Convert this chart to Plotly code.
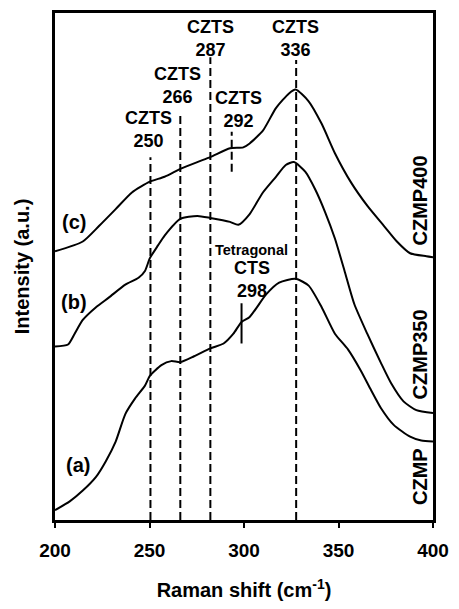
import plotly.graph_objects as go

# ---- data (intensity in arbitrary units, offset curves) ----
x_a = [200, 207.8, 214.7, 221.7, 226.9, 232.1, 237.2, 242.4, 247.6, 250.2, 256.3, 261.5, 266.3,
       273.6, 282.2, 289.2, 294.4, 298.7, 303.0, 311.7, 318.6, 327.3, 334.2, 341.1, 348.1, 355.0,
       361.9, 366.8, 372.5, 379.2, 387.9, 393.8, 400]
y_a = [10, 19, 30, 44, 60, 80, 108, 124, 137, 147, 158, 162, 161,
       167, 175, 180, 190, 202, 207, 230, 242, 246, 239, 217, 190, 174,
       152, 134, 114, 97, 85, 81, 80]

x_b = [200, 206.9, 210.4, 214.7, 221.7, 228.6, 237.2, 244.2, 247.6, 250.2, 254.5, 258.0, 266.3,
       275.3, 282.2, 292.6, 297.0, 303.0, 310.0, 316.9, 322.1, 326.4, 332.5, 337.7, 342.9, 348.1,
       353.2, 358.4, 365.2, 372.5, 377.7, 384.4, 391.2, 400]
y_b = [177, 179, 190, 204, 217, 227, 240, 247, 254, 267, 280, 290, 307,
       310, 308, 304, 301, 312, 334, 350, 362, 365, 355, 337, 314, 287,
       254, 220, 190, 160, 140, 121, 112, 109]

x_c = [200, 214.7, 223.4, 232.1, 240.7, 250.2, 258.0, 266.3, 275.3, 282.2, 292.6, 299.6, 303.0,
       310.0, 316.9, 323.8, 327.3, 334.2, 341.1, 348.1, 356.7, 365.4, 374.0, 380.9, 387.9, 396.5, 400]
y_c = [274, 284, 300, 317, 334, 345, 350, 358, 365, 370, 379, 380, 384,
       397, 420, 435, 439, 427, 404, 374, 344, 320, 300, 284, 272, 269, 268]

curve_tags = ["(a)", "(b)", "(c)"]
sample_names = ["CZMP", "CZMP350", "CZMP400"]

czts_peaks = [250.5, 266.3, 282.2, 327.6]
czts_labels = ["CZTS<br>250", "CZTS<br>266", "CZTS<br>287", "CZTS<br>336"]
czts_line_tops = [370, 416, 472, 469]

czts292_x = 293.5
czts292_span = [355, 396]
cts298_x = 298.7
cts298_span = [180, 221]

x_ticks = [200, 250, 300, 350, 400]

# ---- figure ----
FONT = "Liberation Sans, Arial, sans-serif"
fig = go.Figure()

for xs, ys in [(x_a, y_a), (x_b, y_b), (x_c, y_c)]:
    fig.add_trace(go.Scatter(x=xs, y=ys, mode="lines",
                             line=dict(color="black", width=2, shape="spline", smoothing=0.6),
                             showlegend=False, hoverinfo="skip"))

for p, top in zip(czts_peaks, czts_line_tops):
    fig.add_trace(go.Scatter(x=[p, p], y=[0, top], mode="lines",
                             line=dict(color="black", width=2, dash="8px,4px"),
                             showlegend=False, hoverinfo="skip"))

fig.add_trace(go.Scatter(x=[czts292_x, czts292_x], y=czts292_span, mode="lines",
                         line=dict(color="black", width=2, dash="8px,4px"),
                         showlegend=False, hoverinfo="skip"))
fig.add_trace(go.Scatter(x=[cts298_x, cts298_x], y=cts298_span, mode="lines",
                         line=dict(color="black", width=2),
                         showlegend=False, hoverinfo="skip"))

ann = []
lab_font = dict(family=FONT, size=18, color="black", weight="bold")
czts_label_pos = [(249.7, 398), (264.9, 443.5), (282.2, 491), (327.3, 491)]
for (lx, ly), t in zip(czts_label_pos, czts_labels):
    ann.append(dict(x=lx, y=ly, text=t, showarrow=False, font=lab_font,
                    xanchor="center", yanchor="middle"))
ann.append(dict(x=297.0, y=419, text="CZTS<br>292", showarrow=False, font=lab_font,
                xanchor="center", yanchor="middle"))
ann.append(dict(x=304.2, y=275, text="Tetragonal", showarrow=False,
                font=dict(family=FONT, size=14.5, color="black", weight="bold"),
                xanchor="center", yanchor="middle"))
ann.append(dict(x=304.2, y=245, text="CTS<br>298", showarrow=False, font=lab_font,
                xanchor="center", yanchor="middle"))

tag_pos = [(212.3, 56), (210.0, 222), (210.2, 304)]
for (tx, ty), t in zip(tag_pos, curve_tags):
    ann.append(dict(x=tx, y=ty, text=t, showarrow=False,
                    font=dict(family=FONT, size=20, color="black", weight="bold"),
                    xanchor="center", yanchor="middle"))

name_pos = [(393.2, 44), (393.2, 169), (393.2, 326)]
for (nx, ny), t in zip(name_pos, sample_names):
    ann.append(dict(x=nx, y=ny, text=t, showarrow=False, textangle=-90,
                    font=dict(family=FONT, size=20, color="black", weight="bold"),
                    xanchor="center", yanchor="middle"))

ann.append(dict(xref="paper", yref="paper", x=-0.088, y=0.5, text="Intensity (a.u.)",
                showarrow=False, textangle=-90,
                font=dict(family=FONT, size=20, color="black", weight="bold"),
                xanchor="center", yanchor="middle"))

fig.update_layout(
    width=459, height=609,
    margin=dict(l=55, r=19, t=10, b=82),
    paper_bgcolor="white", plot_bgcolor="white",
    annotations=ann,
    xaxis=dict(range=[200, 400], tickvals=x_ticks, ticktext=[str(v) for v in x_ticks],
               showgrid=False, zeroline=False, showline=True, mirror=True,
               linecolor="black", linewidth=2.5, ticks="outside", ticklen=5, tickwidth=2,
               tickcolor="black", ticklabelstandoff=6,
               tickfont=dict(family=FONT, size=19, color="black", weight="bold"),
               title=dict(text="Raman shift (cm<sup>-1</sup>)", standoff=24,
                          font=dict(family=FONT, size=20, color="black", weight="bold"))),
    yaxis=dict(range=[0, 517], showticklabels=False, ticks="", showgrid=False,
               zeroline=False, showline=True, mirror=True, linecolor="black", linewidth=2.5),
)

fig.write_html("out.html")
